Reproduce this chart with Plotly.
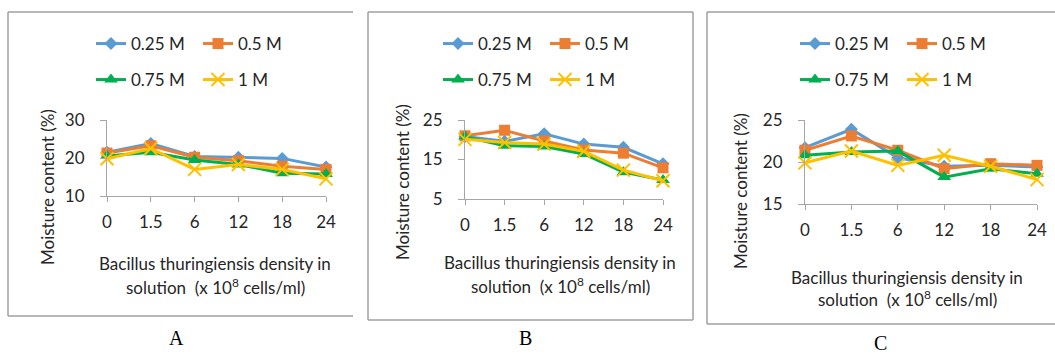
import plotly.graph_objects as go

categories = ["0", "1.5", "6", "12", "18", "24"]
series_names = ["0.25 M", "0.5 M", "0.75 M", "1 M"]

# Panel A
a_025 = [21.5, 23.8, 20.4, 20.2, 19.9, 17.6]
a_05 = [21.3, 23.2, 20.2, 19.3, 17.8, 17.0]
a_075 = [20.5, 21.5, 19.5, 18.3, 16.0, 15.8]
a_1 = [19.8, 22.5, 17.0, 18.3, 17.0, 14.5]

# Panel B
b_025 = [20.8, 19.6, 21.5, 18.9, 18.1, 13.9]
b_05 = [21.0, 22.4, 19.7, 17.4, 16.6, 12.9]
b_075 = [20.8, 18.5, 18.3, 16.4, 11.8, 9.8]
b_1 = [20.1, 19.3, 18.9, 17.1, 12.3, 9.6]

# Panel C
c_025 = [21.7, 23.9, 20.5, 19.5, 19.6, 19.4]
c_05 = [21.4, 23.1, 21.4, 19.2, 19.8, 19.6]
c_075 = [20.8, 21.2, 21.3, 18.2, 19.2, 18.6]
c_1 = [19.9, 21.3, 19.6, 20.8, 19.5, 17.9]

y_ranges = [[10, 30], [5, 25], [15, 25]]
y_ticks = [[10, 20, 30], [5, 15, 25], [15, 20, 25]]
panel_labels = ["A", "B", "C"]

colors = ["#5B9BD5", "#ED7D31", "#00B050", "#FFC000"]
symbols = ["diamond", "square", "triangle-up", "x-thin"]
msizes = [10, 11, 12, 13]

W, H = 1055, 354
def px(x):
    return x / W
def py(y):
    return 1 - y / H

panels = [
    dict(data=[a_025, a_05, a_075, a_1], xd=(107, 326), yd=(120, 196), ytitle=(47, 187),
         xtitle=(215, 263, 286), leg_x=133, label=(176, 338), box=(8, 12, 353, 316, False)),
    dict(data=[b_025, b_05, b_075, b_1], xd=(465, 663), yd=(120, 199), ytitle=(402, 182),
         xtitle=(560, 262, 285), leg_x=480, label=(525, 338), box=(368, 12, 693, 320, True)),
    dict(data=[c_025, c_05, c_075, c_1], xd=(805, 1037), yd=(120, 204), ytitle=(740, 191),
         xtitle=(907, 277, 298), leg_x=837, label=(880, 343), box=(707, 12, 1060, 324, False)),
]

fig = go.Figure()
layout = dict(width=W, height=H, margin=dict(l=0, r=0, t=0, b=0, autoexpand=False),
              paper_bgcolor="white", plot_bgcolor="white", showlegend=True,
              font=dict(family="Lato", color="#262626"))
annotations = []
shapes = []
xidx = list(range(len(categories)))
font_family = "Lato"

for p_i, p in enumerate(panels):
    ax = "" if p_i == 0 else str(p_i + 1)
    for s_i in range(4):
        leg_num = p_i * 2 + (s_i // 2) + 1
        legname = "legend" if leg_num == 1 else "legend%d" % leg_num
        mk = dict(symbol=symbols[s_i], size=msizes[s_i], color=colors[s_i])
        if symbols[s_i] == "x-thin":
            mk["line"] = dict(color=colors[s_i], width=2)
        fig.add_trace(go.Scatter(
            x=xidx, y=p["data"][s_i], mode="lines+markers", name=series_names[s_i],
            line=dict(color=colors[s_i], width=3), marker=mk, cliponaxis=False,
            xaxis="x" + ax, yaxis="y" + ax, legend=legname))
    x0, x1 = p["xd"]
    y0, y1 = p["yd"]
    layout["xaxis" + ax] = dict(
        domain=[px(x0), px(x1)], anchor="y" + ax, range=[0, 5], automargin=False,
        tickmode="array", tickvals=xidx, ticktext=categories,
        showline=True, linecolor="#a6a6a6", linewidth=1, ticks="outside",
        ticklen=5, tickcolor="#a6a6a6", showgrid=False, zeroline=False,
        tickfont=dict(family=font_family, size=17, color="#262626"),
        ticklabelstandoff=6)
    layout["yaxis" + ax] = dict(
        domain=[py(y1), py(y0)], anchor="x" + ax, range=y_ranges[p_i], automargin=False,
        tickmode="array", tickvals=y_ticks[p_i],
        showline=True, linecolor="#a6a6a6", linewidth=1, ticks="outside",
        ticklen=6, tickcolor="#a6a6a6", showgrid=False, zeroline=False,
        tickfont=dict(family=font_family, size=17, color="#262626"),
        ticklabelstandoff=12)
    # legends, two rows
    for r in range(2):
        leg_num = p_i * 2 + r + 1
        legname = "legend" if leg_num == 1 else "legend%d" % leg_num
        layout[legname] = dict(
            x=px(p["leg_x"] - 42), y=py(44 + r * 36), xanchor="left", yanchor="middle",
            orientation="h", bgcolor="rgba(0,0,0,0)", borderwidth=0,
            font=dict(family=font_family, size=17, color="#262626"),
            entrywidth=62, entrywidthmode="pixels", itemwidth=30,
            tracegroupgap=0)
    # axis titles
    tx, ty = p["ytitle"]
    annotations.append(dict(x=px(tx), y=py(ty), xref="paper", yref="paper",
                            text="Moisture content (%)", textangle=-90, showarrow=False,
                            font=dict(family=font_family, size=17, color="#262626"),
                            xanchor="center", yanchor="middle"))
    cx, l1, l2 = p["xtitle"]
    annotations.append(dict(x=px(cx), y=py(l1), xref="paper", yref="paper",
                            text="Bacillus thuringiensis density in", showarrow=False,
                            font=dict(family=font_family, size=17, color="#262626"),
                            xanchor="center", yanchor="middle"))
    annotations.append(dict(x=px(cx), y=py(l2), xref="paper", yref="paper",
                            text="solution \u00a0(x 10<sup>8</sup> cells/ml)", showarrow=False,
                            font=dict(family=font_family, size=17, color="#262626"),
                            xanchor="center", yanchor="middle"))
    lx, ly = p["label"]
    annotations.append(dict(x=px(lx), y=py(ly), xref="paper", yref="paper",
                            text=panel_labels[p_i], showarrow=False,
                            font=dict(family="Liberation Serif", size=20, color="#000000"),
                            xanchor="center", yanchor="middle"))
    bx0, by0, bx1, by1, right = p["box"]
    line = dict(color="#a0a0a0", width=1.5)
    shapes.append(dict(type="line", xref="paper", yref="paper", x0=px(bx0), x1=px(bx1),
                       y0=py(by0), y1=py(by0), line=line))
    shapes.append(dict(type="line", xref="paper", yref="paper", x0=px(bx0), x1=px(bx1),
                       y0=py(by1), y1=py(by1), line=line))
    shapes.append(dict(type="line", xref="paper", yref="paper", x0=px(bx0), x1=px(bx0),
                       y0=py(by0), y1=py(by1), line=line))
    if right:
        shapes.append(dict(type="line", xref="paper", yref="paper", x0=px(bx1), x1=px(bx1),
                           y0=py(by0), y1=py(by1), line=line))

layout["annotations"] = annotations
layout["shapes"] = shapes
fig.update_layout(**layout)
fig.write_html("out.html", config={"displayModeBar": False},
               post_script="document.body.style.margin='0';")
